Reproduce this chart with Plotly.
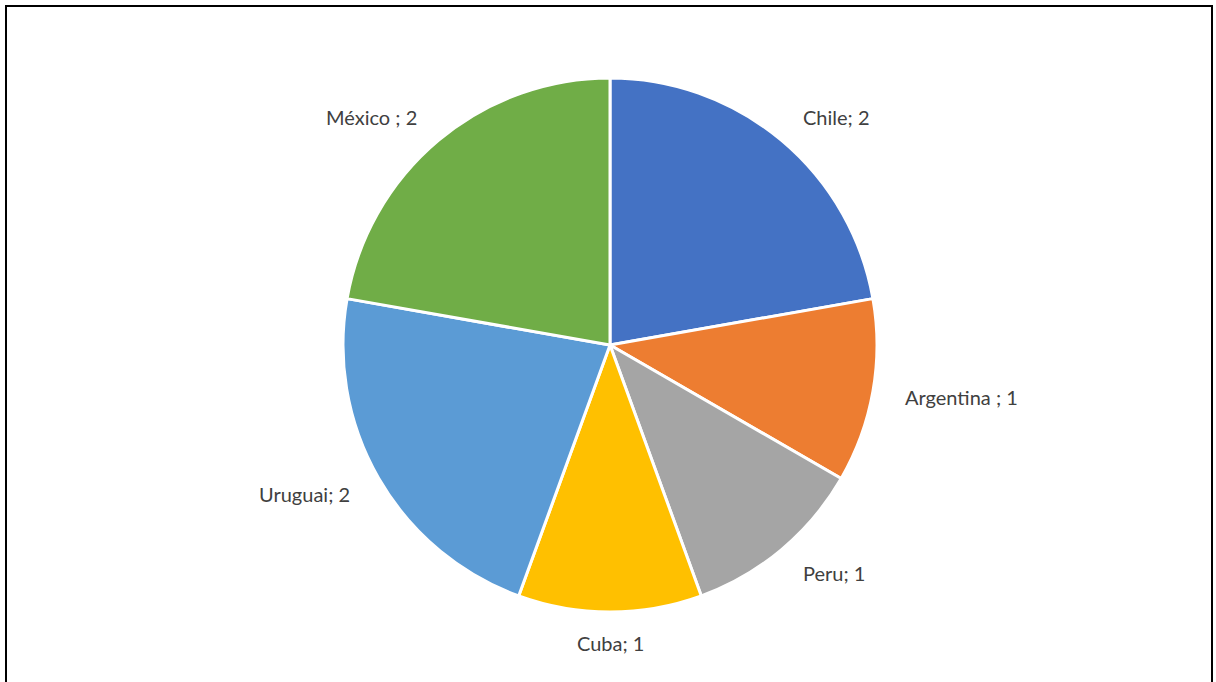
import math
import plotly.graph_objects as go

# Visits per country
countries = ["Chile", "Argentina", "Peru", "Cuba", "Uruguai", "México"]
counts = [2, 1, 1, 1, 2, 2]
separators = ["", " ", "", "", "", " "]
colors = ["#4472C4", "#ED7D31", "#A5A5A5", "#FFC000", "#5B9BD5", "#70AD47"]

W, H = 1216, 682
cx, cy, R = 610, 345, 267  # pie centre and radius in pixels

fig = go.Figure(
    go.Pie(
        labels=countries,
        values=counts,
        sort=False,
        direction="clockwise",
        rotation=0,
        marker=dict(colors=colors, line=dict(color="white", width=3)),
        textinfo="none",
        hoverinfo="label+value",
        showlegend=False,
        domain=dict(x=[(cx - R) / W, (cx + R) / W], y=[1 - (cy + R) / H, 1 - (cy - R) / H]),
    )
)

# Data labels placed just outside each slice, at the slice's mid-angle
total = sum(counts)
acc = 0
annotations = []
for name, v, sep in zip(countries, counts, separators):
    mid = (acc + v / 2) / total * 2 * math.pi
    acc += v
    s, c = math.sin(mid), math.cos(mid)
    d = R * 1.115
    x = (cx + d * s) / W
    y = 1 - (cy - d * c) / H
    xa = "left" if s > 0.1 else ("right" if s < -0.1 else "center")
    annotations.append(
        dict(
            x=x, y=y, xref="paper", yref="paper",
            text=f"{name}{sep}; {v}",
            showarrow=False, xanchor=xa, yanchor="middle",
            font=dict(family="Lato", size=20, color="#404040"),
        )
    )

fig.update_layout(
    width=W,
    height=H,
    margin=dict(l=0, r=0, t=0, b=0),
    paper_bgcolor="white",
    plot_bgcolor="white",
    annotations=annotations,
    shapes=[
        dict(
            type="rect", xref="paper", yref="paper",
            x0=6 / W, x1=1212 / W, y0=-0.01, y1=1 - 6 / H,
            line=dict(color="black", width=2),
        )
    ],
)

fig.write_html("out.html")
